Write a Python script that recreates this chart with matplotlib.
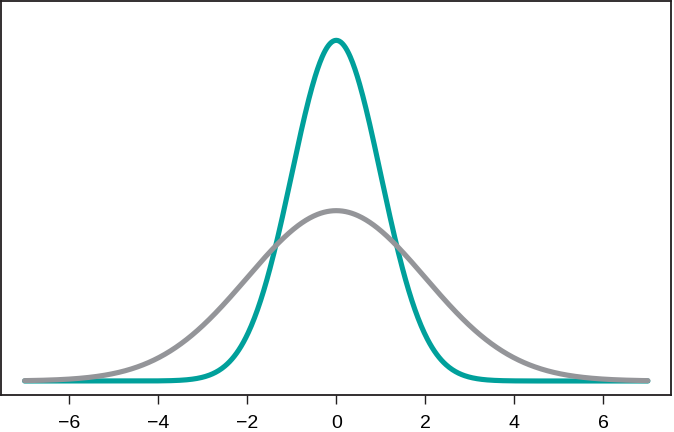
import numpy as np
import matplotlib.pyplot as plt

# two normal densities, same mean, different spread
means = [0, 0]
sds = [1, 2]
colors = ["#00a09b", "#949599"]
x_from, x_to = -7, 7
ticks = [-6, -4, -2, 0, 2, 4, 6]

plt.rcParams['font.family'] = ['Liberation Sans', 'DejaVu Sans']

fig = plt.figure(figsize=(6.74, 4.32), dpi=100)
ax = fig.add_axes([1 / 674, 37 / 432, 670 / 674, 394 / 432])

x = np.linspace(x_from, x_to, 801)
for mu, sd, c in zip(means, sds, colors):
    y = np.exp(-0.5 * ((x - mu) / sd) ** 2) / (sd * np.sqrt(2 * np.pi))
    ax.plot(x, y, color=c, lw=3.7, solid_capstyle='round')

ax.set_xlim(-7.53, 7.52)
ax.set_ylim(-0.0164, 0.445)
ax.set_xticks(ticks)
ax.set_xticklabels([f"{t}".replace("-", "\u2212") for t in ticks])
ax.set_yticks([])
ax.tick_params(axis='x', length=6.5, width=1, pad=8, labelsize=14, color="#231f20")
for s in ax.spines.values():
    s.set_linewidth(1.3)
    s.set_color("#231f20")

fig.savefig("out.png", dpi=100)
